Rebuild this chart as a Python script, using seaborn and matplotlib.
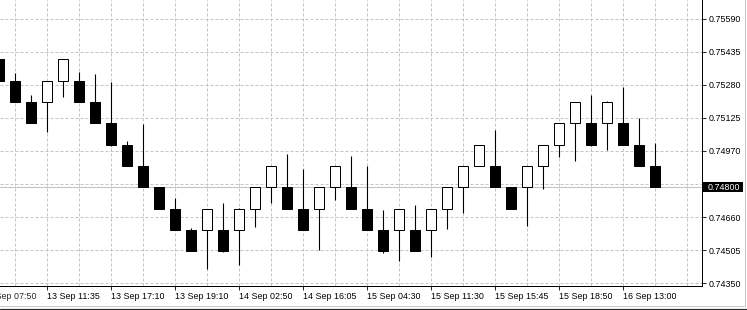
import numpy as np
import pandas as pd
import matplotlib
matplotlib.use("Agg")
import matplotlib.pyplot as plt
import matplotlib.transforms as mtransforms
from matplotlib.patches import Rectangle
from matplotlib.lines import Line2D
import seaborn as sns

# ---------------- data ----------------
opens = [0.754, 0.753, 0.752, 0.752, 0.753, 0.753, 0.752, 0.751, 0.750, 0.749,
         0.748, 0.747, 0.746, 0.746, 0.746, 0.746, 0.747, 0.748, 0.748, 0.747,
         0.747, 0.748, 0.748, 0.747, 0.746, 0.746, 0.746, 0.746, 0.747, 0.748,
         0.749, 0.749, 0.748, 0.748, 0.749, 0.750, 0.751, 0.751, 0.751, 0.751,
         0.750, 0.749]
closes = [0.753, 0.752, 0.751, 0.753, 0.754, 0.752, 0.751, 0.750, 0.749, 0.748,
          0.747, 0.746, 0.745, 0.747, 0.745, 0.747, 0.748, 0.749, 0.747, 0.746,
          0.748, 0.749, 0.747, 0.746, 0.745, 0.747, 0.745, 0.747, 0.748, 0.749,
          0.750, 0.748, 0.747, 0.749, 0.750, 0.751, 0.752, 0.750, 0.752, 0.750,
          0.749, 0.748]
highs = [0.75400, 0.75335, 0.75233, 0.75300, 0.75400, 0.75341, 0.75331, 0.75294,
         0.75017, 0.75097, 0.74800, 0.74749, 0.74608, 0.74700, 0.74726, 0.74702,
         0.74800, 0.74900, 0.74956, 0.74887, 0.74800, 0.74900, 0.74946, 0.74900,
         0.74693, 0.74700, 0.74716, 0.74700, 0.74800, 0.74900, 0.75000, 0.75069,
         0.74800, 0.74900, 0.75000, 0.75100, 0.75200, 0.75230, 0.75205, 0.75272,
         0.75123, 0.75009]
lows = [0.75300, 0.75200, 0.75100, 0.75061, 0.75225, 0.75200, 0.75100, 0.74993,
        0.74900, 0.74800, 0.74700, 0.74600, 0.74500, 0.74415, 0.74497, 0.74435,
        0.74615, 0.74727, 0.74700, 0.74600, 0.74507, 0.74740, 0.74700, 0.74600,
        0.74492, 0.74455, 0.74500, 0.74474, 0.74605, 0.74680, 0.74900, 0.74800,
        0.74700, 0.74619, 0.74793, 0.74943, 0.74924, 0.74995, 0.74975, 0.75000,
        0.74900, 0.74800]

time_labels = ["13 Sep 07:50", "13 Sep 11:35", "13 Sep 17:10", "13 Sep 19:10",
               "14 Sep 02:50", "14 Sep 16:05", "15 Sep 04:30", "15 Sep 11:30",
               "15 Sep 15:45", "15 Sep 18:50", "16 Sep 13:00"]
time_label_idx = [-1, 3, 7, 11, 15, 19, 23, 27, 31, 35, 39]

price_ticks = [0.74350, 0.74505, 0.74660, 0.74815, 0.74970,
               0.75125, 0.75280, 0.75435, 0.75590]
current_price = 0.74800

df = pd.DataFrame({"open": opens, "high": highs, "low": lows, "close": closes})
df["idx"] = np.arange(len(df))
df["up"] = df["close"] >= df["open"]

# ---------------- style ----------------
sns.set_style("white")
plt.rcParams["font.family"] = ["Liberation Sans", "DejaVu Sans"]
FS = 6.4
PX = 0.72  # one pixel in points at dpi 100

W, H = 747, 310
fig = plt.figure(figsize=(W / 100, H / 100), dpi=100)
ax_left, ax_right, ax_top, ax_bot = 0, 702, 0, 286
ax = fig.add_axes([ax_left / W, (H - ax_bot) / H, (ax_right - ax_left) / W, (ax_bot - ax_top) / H])
ax.set_facecolor("white")

ax.set_xlim(0.7 / 16, 702.7 / 16)
ax.set_ylim(current_price - 98.8 / 21330, current_price + 187.2 / 21330)

grid_kw = dict(color="#c4c4c4", lw=PX, linestyle=(0, (3, 2)), zorder=0)
for gx in range(1, 45, 2):
    ax.axvline(gx, **grid_kw)
for gy in price_ticks:
    ax.axhline(gy, **grid_kw)

ax.axhline(current_price, color="#c0c0c0", lw=PX, zorder=0.5)

# wicks
ax.vlines(df["idx"], df["low"], df["high"], color="black", lw=PX * 1.1, zorder=2)
# bodies
bottoms = np.minimum(df["open"], df["close"])
heights = np.abs(df["close"] - df["open"])
faces = np.where(df["up"], "white", "black")
ax.bar(df["idx"], heights, bottom=bottoms, width=0.63, color=faces,
       edgecolor="black", linewidth=PX, zorder=3)

# spines
for s in ["left", "top"]:
    ax.spines[s].set_visible(False)
for s in ["right", "bottom"]:
    ax.spines[s].set_visible(True)
    ax.spines[s].set_color("black")
    ax.spines[s].set_linewidth(PX)

# y axis on right (label hidden behind the current-price box is left empty)
ax.yaxis.tick_right()
ax.set_yticks(price_ticks)
ax.set_yticklabels(["" if abs(v - current_price) < 0.0003 else f"{v:.5f}" for v in price_ticks],
                   fontsize=FS, color="black")
ax.tick_params(axis="y", length=3.5 * PX, width=PX, pad=2.5, direction="out", right=True, left=False)

# x axis
XL, XP = 3.5 * PX, 1.5
vis = [(i, l) for i, l in zip(time_label_idx, time_labels) if i >= 0]
ax.set_xticks([i for i, _ in vis])
ax.set_xticklabels([l for _, l in vis], fontsize=FS, ha="left", color="black")
ax.tick_params(axis="x", length=XL, width=PX, pad=XP, direction="out", bottom=True)
# partially visible first label (its tick lies left of the plot)
lbl_tr = mtransforms.offset_copy(
    mtransforms.blended_transform_factory(ax.transData, ax.transAxes),
    fig=fig, y=-(XL + XP), units="points")
for i, l in zip(time_label_idx, time_labels):
    if i < 0:
        ax.text(i, 0, l, transform=lbl_tr, fontsize=FS, ha="left", va="top",
                clip_on=False)

# current price box
tr = mtransforms.blended_transform_factory(ax.transAxes, ax.transData)
box_h = 10.3 / 21330
ax.add_patch(Rectangle((1.0, current_price - box_h / 2), 41 / 702, box_h,
                       transform=tr, facecolor="black", edgecolor="none",
                       clip_on=False, zorder=10))
ax.text(1.0 + 5.5 / 702, current_price, f"{current_price:.5f}", transform=tr,
        color="white", fontsize=FS, ha="left", va="center", clip_on=False, zorder=11)

# window frame
fig.add_artist(Line2D([744.5 / W, 744.5 / W], [1, (H - 305.5) / H], transform=fig.transFigure,
                      color="#c8c8c8", lw=PX))
fig.add_artist(Line2D([0, 744.5 / W], [(H - 305.5) / H] * 2, transform=fig.transFigure,
                      color="#c8c8c8", lw=PX))
fig.add_artist(Line2D([0, 1], [(H - 308.5) / H] * 2, transform=fig.transFigure,
                      color="#303030", lw=PX * 1.2))

fig.savefig("out.png", dpi=100, facecolor="white")
